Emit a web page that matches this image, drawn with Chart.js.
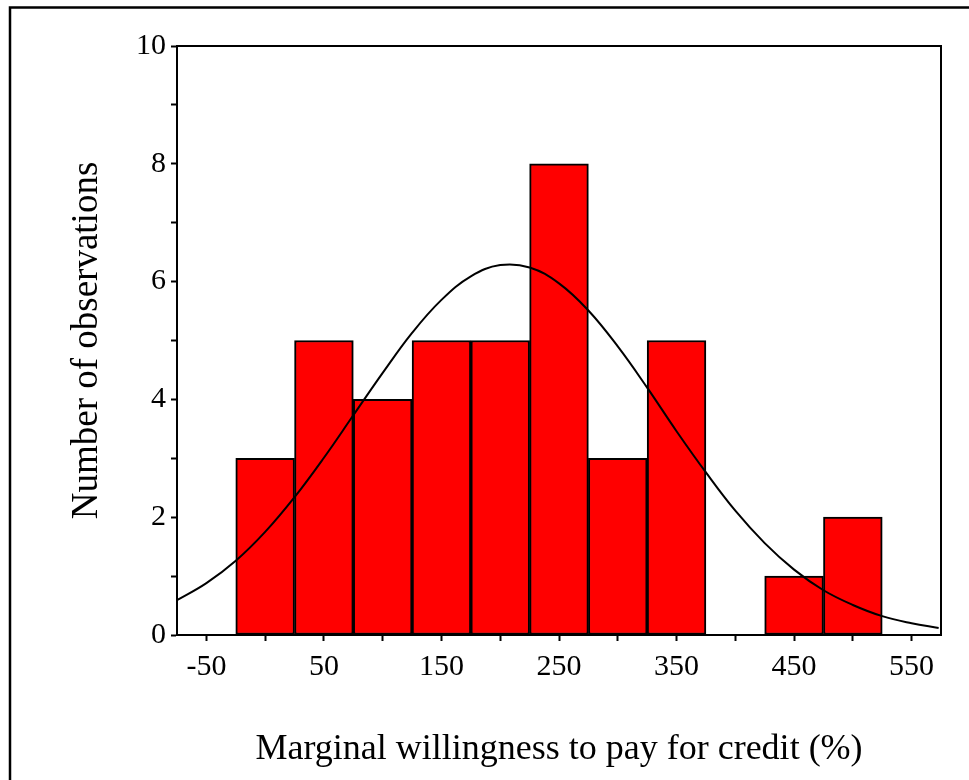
<!DOCTYPE html>
<html>
<head>
<meta charset="utf-8">
<script src="https://cdn.jsdelivr.net/npm/chart.js@4"></script>
<style>
  html, body { margin: 0; padding: 0; background: #fff; }
  #wrap { width: 969px; height: 780px; position: relative; }
</style>
</head>
<body>
<div id="wrap"><canvas id="chartHist"></canvas></div>
<script>
// ===============================
// Data
// ===============================

// bin centres (%), bin width 50
const binCentres = [0, 50, 100, 150, 200, 250, 300, 350, 400, 450, 500];
const binCounts = [3, 5, 4, 5, 5, 8, 3, 5, 0, 1, 2];

// fitted normal curve
const curveX = [-75, -50, -25, 0, 25, 50, 75, 100, 125, 150, 175, 200, 225, 250, 275, 300, 325, 350, 375, 400, 425, 450, 475, 500, 525, 550, 573];
const curveY = [0.59, 0.88, 1.26, 1.75, 2.34, 3.01, 3.73, 4.45, 5.13, 5.69, 6.09, 6.28, 6.24, 5.97, 5.51, 4.90, 4.20, 3.46, 2.76, 2.11, 1.56, 1.11, 0.76, 0.51, 0.32, 0.20, 0.12];

// axis ticks
const xTickMarks = [-50, 0, 50, 100, 150, 200, 250, 300, 350, 400, 450, 500, 550];
const xTickLabels = [-50, 50, 150, 250, 350, 450, 550];
const yTickLabels = [0, 2, 4, 6, 8, 10];

const fontFamily = "'Liberation Serif', 'Times New Roman', serif";

// ===============================
// Box round plot + outer frame
// ===============================
const framePlugin = {
    id: "frame",
    afterDraw(chart) {
        const c = chart.ctx;
        const a = chart.chartArea;
        c.save();
        c.strokeStyle = "#000";
        c.lineWidth = 2;
        c.strokeRect(a.left, a.top, a.right - a.left, a.bottom - a.top);
        // outer frame (left and top visible)
        c.lineWidth = 2.5;
        c.beginPath();
        c.moveTo(10, 780);
        c.lineTo(10, 7.5);
        c.lineTo(969, 7.5);
        c.stroke();
        c.restore();
    }
};

const ctx = document.getElementById("chartHist");

new Chart(ctx, {
    type: "bar",
    data: {
        datasets: [
            {
                type: "line",
                data: curveX.map((x, i) => ({ x: x, y: curveY[i] })),
                borderColor: "#000",
                borderWidth: 2,
                pointRadius: 0,
                tension: 0.4,
                fill: false,
                order: 0
            },
            {
                type: "bar",
                data: binCentres.map((x, i) => ({ x: x, y: binCounts[i] })),
                backgroundColor: "#ff0000",
                borderColor: "#000",
                borderWidth: 2,
                borderSkipped: false,
                barPercentage: 1,
                categoryPercentage: 1,
                order: 1
            }
        ]
    },
    options: {
        responsive: true,
        maintainAspectRatio: false,
        animation: false,
        layout: {
            padding: { top: 46, right: 28, bottom: 0, left: 65 }
        },
        plugins: {
            legend: { display: false },
            tooltip: { enabled: false }
        },
        scales: {
            x: {
                type: "linear",
                offset: false,
                min: -75,
                max: 575,
                afterBuildTicks: scale => {
                    scale.ticks = xTickMarks.map(v => ({ value: v }));
                },
                afterFit: scale => { scale.height = 145; },
                grid: {
                    offset: false,
                    drawOnChartArea: false,
                    drawTicks: true,
                    tickLength: 6,
                    tickWidth: 2,
                    color: "#000"
                },
                border: { color: "#000", width: 2 },
                ticks: {
                    autoSkip: false,
                    maxRotation: 0,
                    padding: 8,
                    color: "#000",
                    font: { family: fontFamily, size: 30 },
                    callback: v => xTickLabels.includes(v) ? String(v) : ""
                },
                title: {
                    display: true,
                    text: "Marginal willingness to pay for credit (%)",
                    color: "#000",
                    font: { family: fontFamily, size: 36 },
                    padding: { top: 0, bottom: 9 }
                }
            },
            y: {
                min: 0,
                max: 10,
                afterFit: scale => { scale.width = 112; },
                grid: {
                    drawOnChartArea: false,
                    drawTicks: true,
                    tickLength: 6,
                    tickWidth: 2,
                    color: "#000"
                },
                border: { color: "#000", width: 2 },
                ticks: {
                    stepSize: 1,
                    autoSkip: false,
                    padding: 5,
                    color: "#000",
                    font: { family: fontFamily, size: 30 },
                    callback: v => yTickLabels.includes(v) ? String(v) : ""
                },
                title: {
                    display: true,
                    text: "Number of observations",
                    color: "#000",
                    font: { family: fontFamily, size: 37 },
                    padding: 0
                }
            }
        }
    },
    plugins: [framePlugin]
});
</script>
</body>
</html>
